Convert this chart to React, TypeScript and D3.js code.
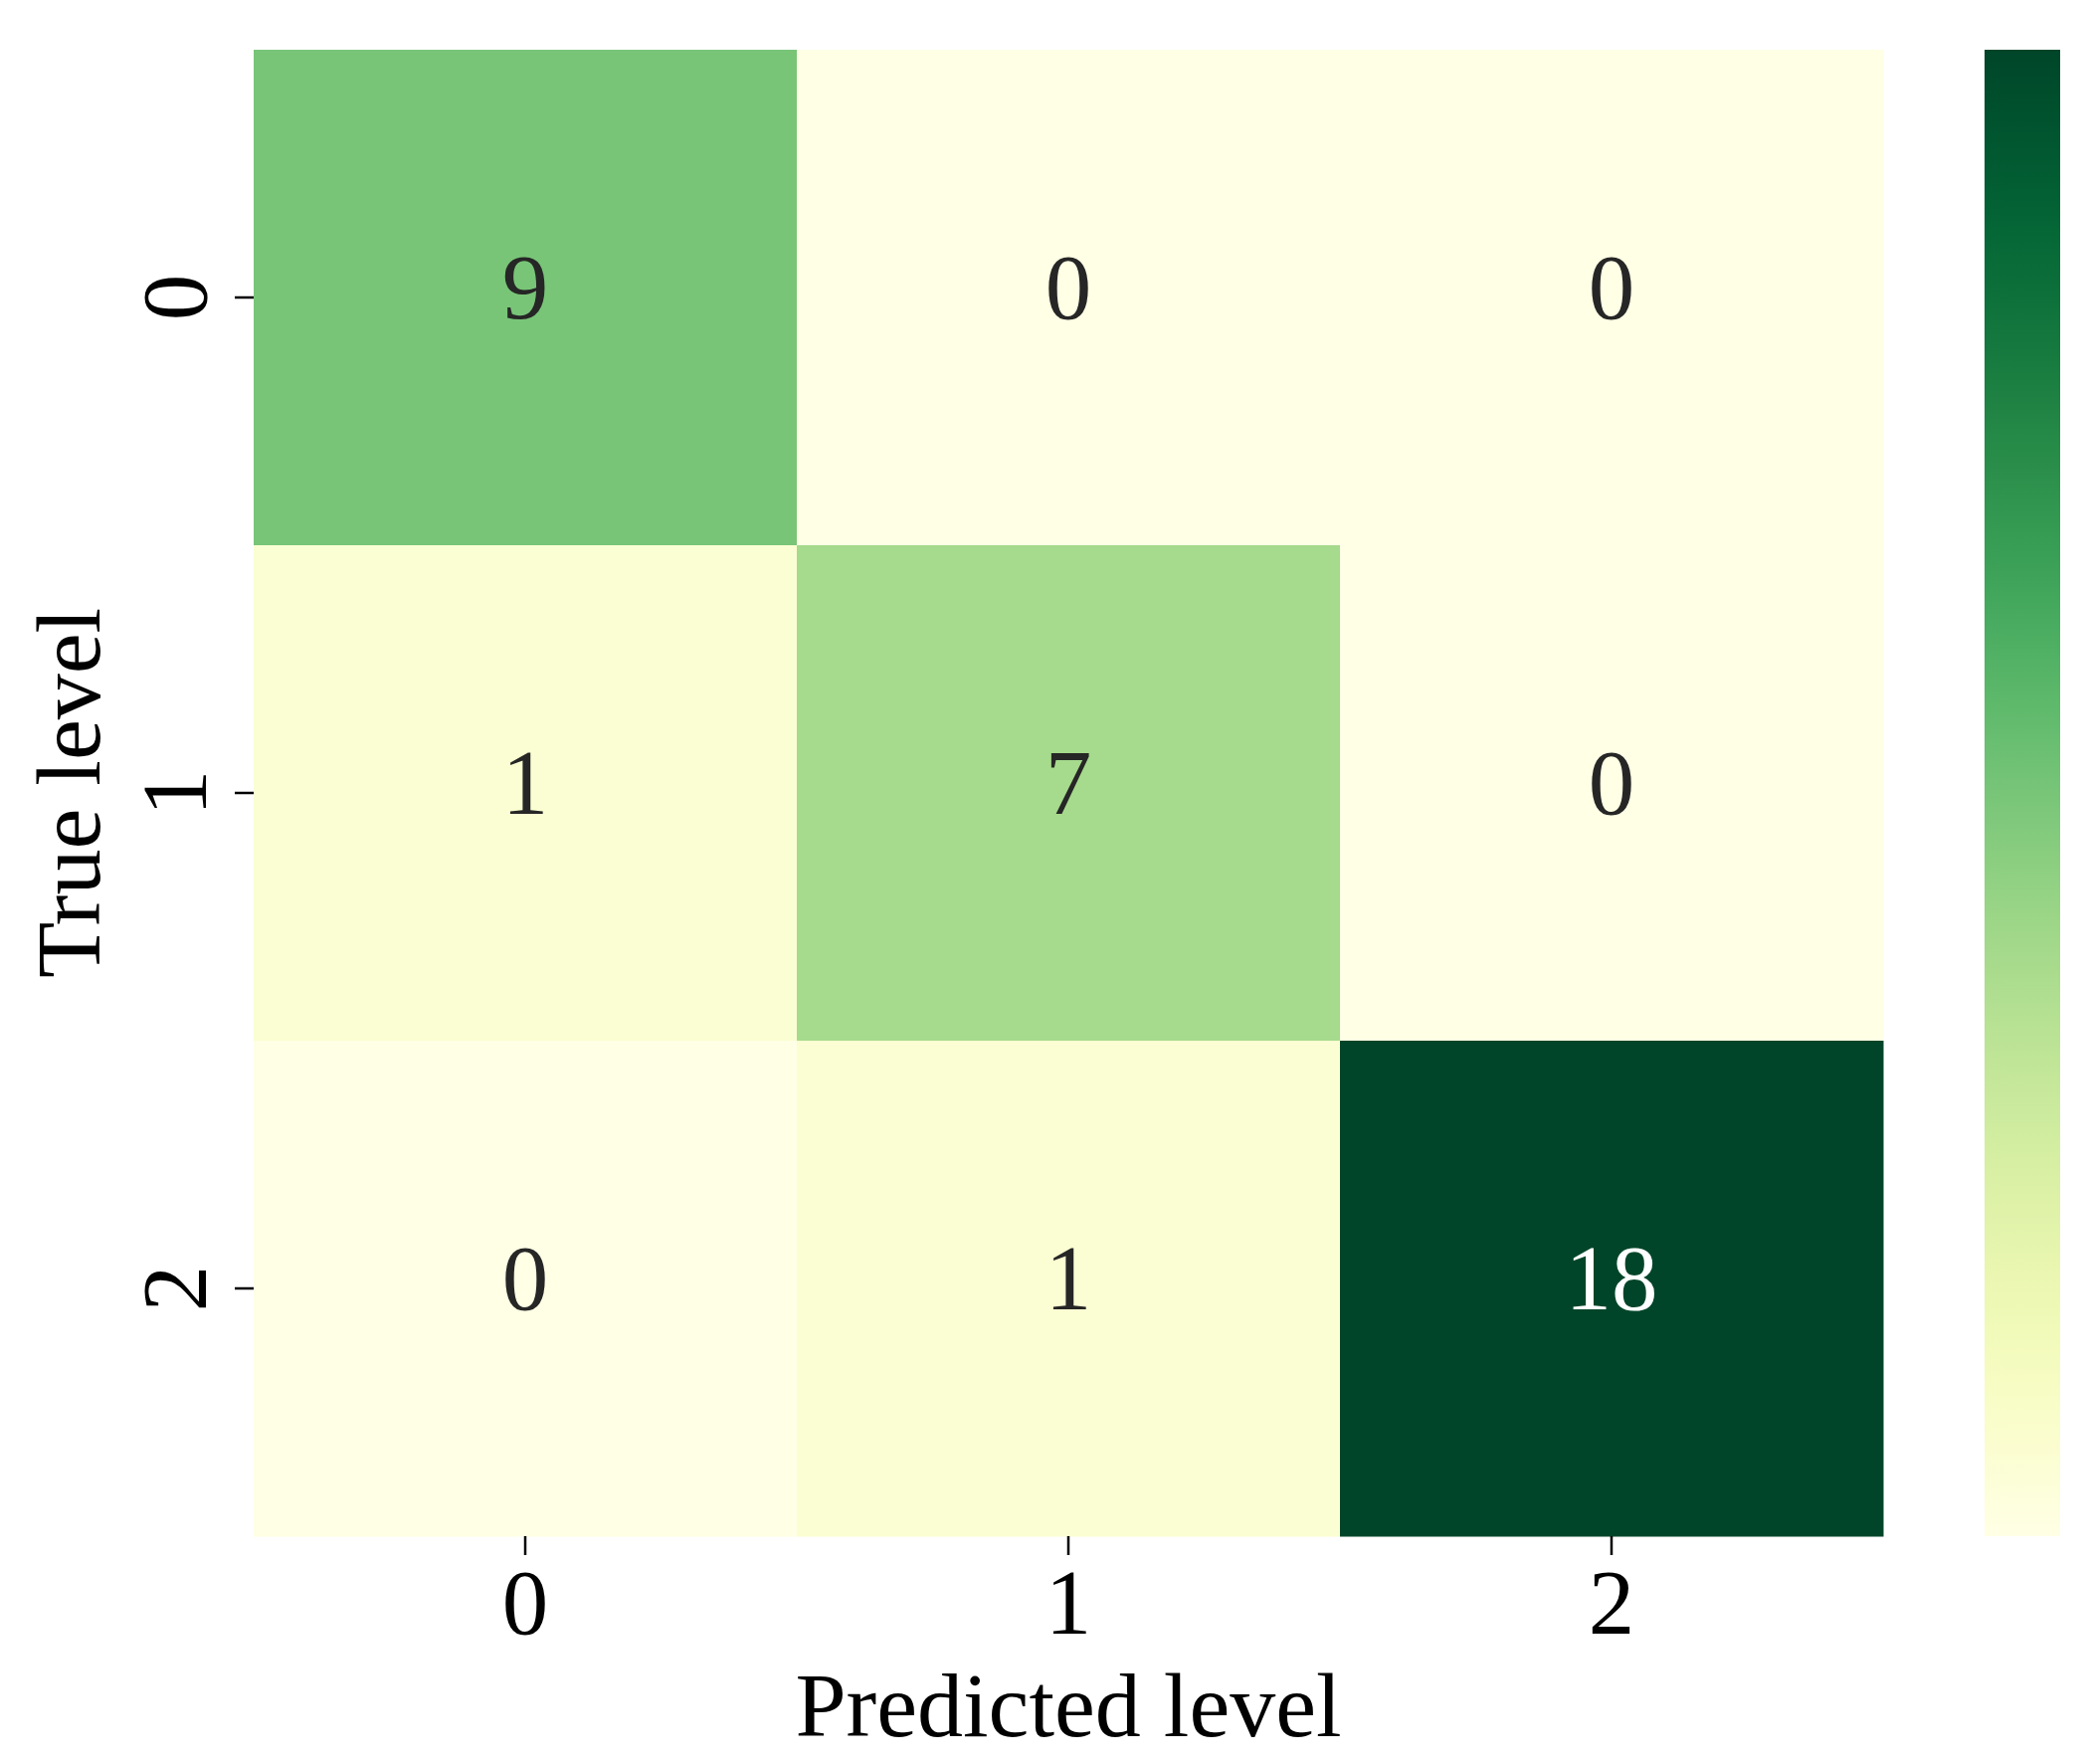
import React from "react";
import * as d3 from "d3";

const rowLabels = ["0", "1", "2"];
const colLabels = ["0", "1", "2"];
const matrix = [
  [9, 0, 0],
  [1, 7, 0],
  [0, 1, 18],
];
const xTitle = "Predicted level";
const yTitle = "True level";
const vMin = 0;
const vMax = 18;

const W = 2101;
const H = 1773;
const plot = { left: 255, right: 1893, top: 50, bottom: 1544 };
const cbar = { left: 1995, right: 2071, top: 50, bottom: 1544 };
const FONT = "'Liberation Serif', 'Times New Roman', serif";
const FS = 93;
const FS_TITLE = 92;

export default function App() {
  const x = d3.scaleBand<string>().domain(colLabels).range([plot.left, plot.right]);
  const y = d3.scaleBand<string>().domain(rowLabels).range([plot.top, plot.bottom]);
  const color = d3.scaleSequential(d3.interpolateYlGn).domain([vMin, vMax]);
  const cy = d3.scaleLinear().domain([vMin, vMax]).range([cbar.bottom, cbar.top]);
  const stops = d3.range(0, 1.0001, 0.02);

  const cells: React.ReactNode[] = [];
  matrix.forEach((row, i) => {
    row.forEach((v, j) => {
      const c = d3.lab(color(v));
      const textColor = c.l < 50 ? "#ffffff" : "#262626";
      cells.push(
        <g key={`${i}-${j}`}>
          <rect
            x={x(colLabels[j])}
            y={y(rowLabels[i])}
            width={x.bandwidth() + 0.5}
            height={y.bandwidth() + 0.5}
            fill={color(v)}
          />
          <text
            x={(x(colLabels[j]) as number) + x.bandwidth() / 2}
            y={(y(rowLabels[i]) as number) + y.bandwidth() / 2 + 21}
            textAnchor="middle"
            fontFamily={FONT}
            fontSize={FS}
            fill={textColor}
          >
            {v}
          </text>
        </g>
      );
    });
  });

  return (
    <svg width={W} height={H} style={{ position: "absolute", left: 0, top: 0, background: "#fff" }}>
      <defs>
        <linearGradient id="cbgrad" x1="0" y1="1" x2="0" y2="0">
          {stops.map((t) => (
            <stop key={t} offset={t} stopColor={color(vMin + t * (vMax - vMin))} />
          ))}
        </linearGradient>
      </defs>
      {cells}
      {colLabels.map((c) => {
        const cx = (x(c) as number) + x.bandwidth() / 2;
        return (
          <g key={"x" + c}>
            <line x1={cx} x2={cx} y1={plot.bottom} y2={plot.bottom + 19} stroke="#000" strokeWidth={2.5} />
            <text x={cx} y={1642} textAnchor="middle" fontFamily={FONT} fontSize={FS} fill="#000">
              {c}
            </text>
          </g>
        );
      })}
      {rowLabels.map((r) => {
        const ry = (y(r) as number) + y.bandwidth() / 2;
        return (
          <g key={"y" + r}>
            <line x1={plot.left - 19} x2={plot.left} y1={ry} y2={ry} stroke="#000" strokeWidth={2.5} />
            <text
              transform={`translate(207,${ry}) rotate(-90)`}
              textAnchor="middle"
              fontFamily={FONT}
              fontSize={FS}
              fill="#000"
            >
              {r}
            </text>
          </g>
        );
      })}
      <text
        x={(plot.left + plot.right) / 2}
        y={1745}
        textAnchor="middle"
        fontFamily={FONT}
        fontSize={FS_TITLE}
        fill="#000"
      >
        {xTitle}
      </text>
      <text
        transform={`translate(100,${(plot.top + plot.bottom) / 2}) rotate(-90)`}
        textAnchor="middle"
        fontFamily={FONT}
        fontSize={FS_TITLE}
        fill="#000"
      >
        {yTitle}
      </text>
      <rect
        x={cbar.left}
        y={cy(vMax)}
        width={cbar.right - cbar.left}
        height={cy(vMin) - cy(vMax)}
        fill="url(#cbgrad)"
      />
    </svg>
  );
}
